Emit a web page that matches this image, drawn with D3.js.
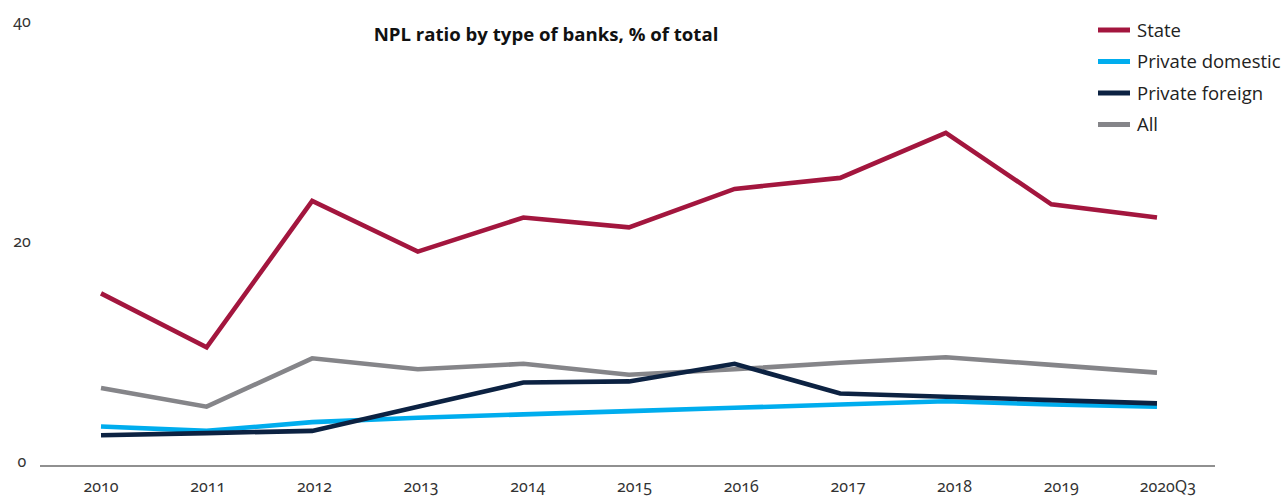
<!DOCTYPE html>
<html>
<head>
<meta charset="utf-8">
<script src="https://cdn.jsdelivr.net/npm/d3@7"></script>
<style>
  html, body { margin: 0; padding: 0; background: #fff; }
  svg { display: block; }
  .tick-label { font-family: "Noto Sans", "Open Sans", sans-serif; font-size: 16px; fill: #333; font-variant-numeric: oldstyle-nums; font-feature-settings: "onum" 1; }
  .title { font-family: "Open Sans", "Noto Sans", sans-serif; font-weight: 700; font-size: 18.6px; fill: #111; }
  .legend-label { font-family: "Open Sans", "Noto Sans", sans-serif; font-size: 18.5px; fill: #222; }
</style>
</head>
<body>
<svg id="chart" width="1284" height="496"></svg>
<script>
// Categories along the horizontal axis
const periods = ["2010", "2011", "2012", "2013", "2014", "2015", "2016", "2017", "2018", "2019", "2020Q3"];

// NPL ratio, % of total, per bank type
const stateBanks      = [15.6, 10.7, 24.0, 19.4, 22.5, 21.6, 25.1, 26.1, 30.2, 23.7, 22.5];
const privateDomestic = [3.5, 3.1, 3.9, 4.3, 4.6, 4.9, 5.2, 5.5, 5.8, 5.5, 5.3];
const privateForeign  = [2.7, 2.9, 3.1, 5.3, 7.5, 7.6, 9.2, 6.5, 6.2, 5.9, 5.6];
const allBanks        = [7.0, 5.3, 9.7, 8.7, 9.2, 8.2, 8.7, 9.3, 9.8, 9.1, 8.4];

const yTicks = [0, 20, 40];
const seriesNames = ["State", "Private domestic", "Private foreign", "All"];
const seriesColors = ["#a3163e", "#00adee", "#0c2242", "#858589"];
const seriesValues = [stateBanks, privateDomestic, privateForeign, allBanks];

const svg = d3.select("#chart");

// Scales
const y = d3.scaleLinear().domain([0, 40]).range([465, 25]);
const xLabel = d3.scalePoint().domain(periods).range([101, 1168]);
const xLine = d3.scalePoint().domain(periods).range([101, 1157]);

// Baseline
svg.append("line")
  .attr("x1", 40).attr("x2", 1215)
  .attr("y1", y(0) + 1).attr("y2", y(0) + 1)
  .attr("stroke", "#222").attr("stroke-width", 1.2);

// Y tick labels
svg.append("g").selectAll("text")
  .data(yTicks)
  .join("text")
  .attr("class", "tick-label")
  .attr("x", 22)
  .attr("y", d => y(d) + 2)
  .attr("text-anchor", "middle")
  .text(d => d);

// X tick labels
svg.append("g").selectAll("text")
  .data(periods)
  .join("text")
  .attr("class", "tick-label")
  .attr("x", d => xLabel(d))
  .attr("y", 492)
  .attr("text-anchor", "middle")
  .text(d => d);

// Lines (All drawn first so the others sit above it)
const line = d3.line()
  .x((d, i) => xLine(periods[i]))
  .y(d => y(d))
  .curve(d3.curveLinear);

const drawOrder = [3, 1, 2, 0];
svg.append("g").selectAll("path")
  .data(drawOrder)
  .join("path")
  .attr("d", k => line(seriesValues[k]))
  .attr("fill", "none")
  .attr("stroke", k => seriesColors[k])
  .attr("stroke-width", 4.6)
  .attr("stroke-linejoin", "miter");

// Title
svg.append("text")
  .attr("class", "title")
  .attr("x", 546)
  .attr("y", 41)
  .attr("text-anchor", "middle")
  .text("NPL ratio by type of banks, % of total");

// Legend
const legend = svg.append("g").selectAll("g")
  .data(seriesNames)
  .join("g")
  .attr("transform", (d, i) => `translate(1098, ${30 + i * 31.5})`);

legend.append("line")
  .attr("x1", 0).attr("x2", 32)
  .attr("y1", 0).attr("y2", 0)
  .attr("stroke", (d, i) => seriesColors[i])
  .attr("stroke-width", 5);

legend.append("text")
  .attr("class", "legend-label")
  .attr("x", 39)
  .attr("y", 6.5)
  .text(d => d);
</script>
</body>
</html>
